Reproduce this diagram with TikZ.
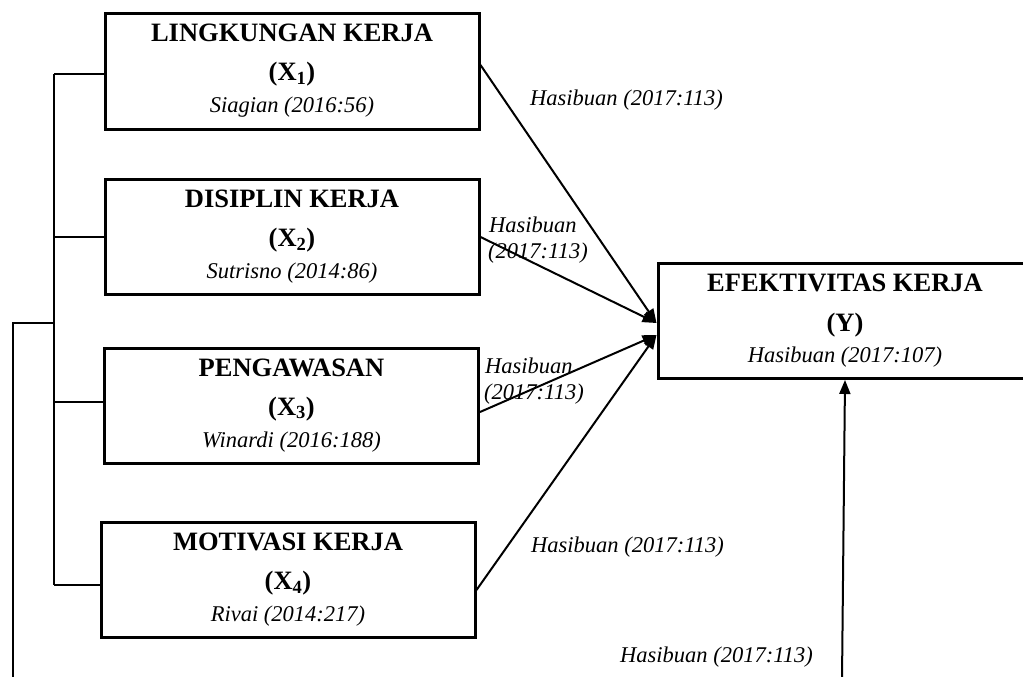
\documentclass[tikz,border=0pt]{standalone}
\usepackage{fontspec}
\setmainfont{Liberation Serif}
\usetikzlibrary{arrows.meta}
\begin{document}
\begin{tikzpicture}[x=1pt,y=-1pt,
  box/.style={draw, line width=3pt, minimum width=374pt, minimum height=115pt, inner sep=0pt},
  ttl/.style={font=\fontsize{26.5}{30}\selectfont\bfseries, anchor=base, inner sep=0pt},
  cite/.style={font=\fontsize{22.5}{26}\selectfont\itshape, anchor=base, inner sep=0pt},
  lbl/.style={font=\fontsize{22.5}{26}\selectfont\itshape, anchor=base west, inner sep=0pt},
  conn/.style={line width=2pt, -{Triangle[length=14pt,width=11pt]}},
  brk/.style={line width=1.5pt}]
\useasboundingbox (0,0) rectangle (1023,677);

% boxes
\node[box] (b1) at (292,71.5) {};
\node[box] (b2) at (292,237) {};
\node[box] (b3) at (291.5,405.5) {};
\node[box] (b4) at (288,580) {};
\node[box] (yb) at (845,321) {};

% box texts
\node[ttl] (b1a) at ([yshift=-29.5pt]b1.north) {LINGKUNGAN KERJA};
\node[ttl] (b1b) at ([yshift=-68.5pt]b1.north) {(X\textsubscript{1})};
\node[cite] (b1c) at ([yshift=-100.5pt]b1.north) {Siagian (2016:56)};

\node[ttl] (b2a) at ([yshift=-29.5pt]b2.north) {DISIPLIN KERJA};
\node[ttl] (b2b) at ([yshift=-68.5pt]b2.north) {(X\textsubscript{2})};
\node[cite] (b2c) at ([yshift=-100.5pt]b2.north) {Sutrisno (2014:86)};

\node[ttl] (b3a) at ([yshift=-29.5pt]b3.north) {PENGAWASAN};
\node[ttl] (b3b) at ([yshift=-68.5pt]b3.north) {(X\textsubscript{3})};
\node[cite] (b3c) at ([yshift=-100.5pt]b3.north) {Winardi (2016:188)};

\node[ttl] (b4a) at ([yshift=-29.5pt]b4.north) {MOTIVASI KERJA};
\node[ttl] (b4b) at ([yshift=-68.5pt]b4.north) {(X\textsubscript{4})};
\node[cite] (b4c) at ([yshift=-100.5pt]b4.north) {Rivai (2014:217)};

\node[ttl] (ya) at ([yshift=-29.5pt]yb.north) {EFEKTIVITAS KERJA};
\node[ttl] (yy) at ([yshift=-69.5pt]yb.north) {(Y)};
\node[cite] (yc) at ([yshift=-100.5pt]yb.north) {Hasibuan (2017:107)};

% arrow targets
\coordinate (tA) at ([yshift=-2pt]yb.west);
\coordinate (tB) at ([yshift=-14pt]yb.west);

\draw[conn] ([yshift=6.5pt]b1.east) -- (tA);
\draw[conn] (b2.east) -- (tA);
\draw[conn] ([yshift=-6.5pt]b3.east) -- (tB);
\draw[conn] ([yshift=-10pt]b4.east) -- (tB);

% bottom arrow
\coordinate (yfoot) at (842,680);
\draw[conn] (yfoot) -- (yb.south);

% labels
\node[lbl] (l1) at (530,105) {Hasibuan (2017:113)};
\node[lbl] (l2a) at (489,232) {Hasibuan};
\node[lbl] (l2b) at (488,258) {(2017:113)};
\node[lbl] (l3a) at (485,373) {Hasibuan};
\node[lbl] (l3b) at (484,399) {(2017:113)};
\node[lbl] (l4) at (531,552) {Hasibuan (2017:113)};
\node[lbl] (l5) at (620,662) {Hasibuan (2017:113)};

% bracket
\coordinate (kt) at (54,74);
\coordinate (kb) at (54,585);
\coordinate (kj) at (54,323);
\coordinate (ko) at (13,680);
\draw[brk] (kt) -- (kb);
\draw[brk] (kt) -- (kt -| b1.west);
\draw[brk] (54,237) -- (b2.west);
\draw[brk] (54,402) -- (54,402 -| b3.west);
\draw[brk] (kb) -- (kb -| b4.west);
\draw[brk] (ko) |- (kj);
\end{tikzpicture}
\end{document}
